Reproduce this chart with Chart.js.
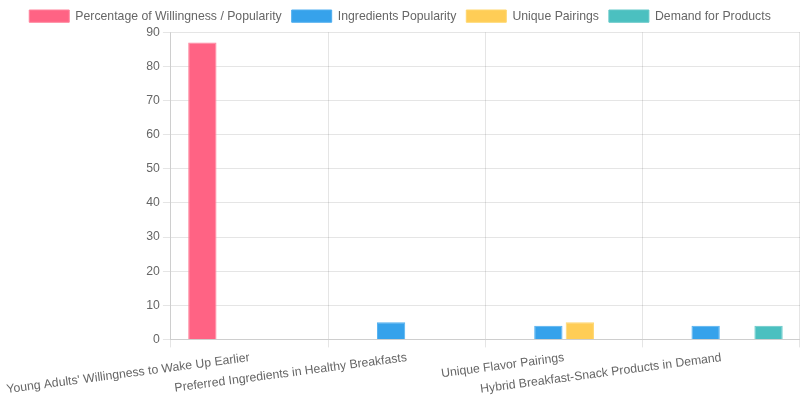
<!DOCTYPE html>
<html>
<head>
<meta charset="utf-8">
<script src="https://cdn.jsdelivr.net/npm/chart.js@4"></script>
<style>
  html, body { margin: 0; padding: 0; background: #fff; }
  #wrap { width: 800px; height: 400px; }
</style>
</head>
<body>
<div id="wrap"><canvas id="barChart"></canvas></div>
<script>
const categories = [
    "Young Adults' Willingness to Wake Up Earlier",
    "Preferred Ingredients in Healthy Breakfasts",
    "Unique Flavor Pairings",
    "Hybrid Breakfast-Snack Products in Demand"
];
const willingness = [87, null, null, null];
const ingredients = [null, 5, 4, 4];
const pairings = [null, null, 5, null];
const demand = [null, null, null, 4];

document.addEventListener("DOMContentLoaded", function () {
    const canvas = document.getElementById("barChart");

    // text in the reference runs a little wider than the stock 12px
    Chart.defaults.font.size = 12.25;

    new Chart(canvas, {
        type: "bar",
        data: {
            labels: categories,
            datasets: [{
                label: "Percentage of Willingness / Popularity",
                data: willingness,
                backgroundColor: "rgb(255, 99, 132)",
                borderColor: "rgb(255, 130, 155)",
                borderWidth: 1
            }, {
                label: "Ingredients Popularity",
                data: ingredients,
                backgroundColor: "rgb(54, 162, 235)",
                borderColor: "rgb(80, 175, 240)",
                borderWidth: 1
            }, {
                label: "Unique Pairings",
                data: pairings,
                backgroundColor: "rgb(255, 205, 86)",
                borderColor: "rgb(255, 215, 110)",
                borderWidth: 1
            }, {
                label: "Demand for Products",
                data: demand,
                backgroundColor: "rgb(75, 192, 192)",
                borderColor: "rgb(100, 200, 200)",
                borderWidth: 1
            }]
        },
        options: {
            responsive: true,
            maintainAspectRatio: false,
            animation: false,
            plugins: {
                legend: {
                    display: true,
                    position: "top"
                }
            },
            scales: {
                y: {
                    beginAtZero: true
                }
            }
        }
    });
});
</script>
</body>
</html>
